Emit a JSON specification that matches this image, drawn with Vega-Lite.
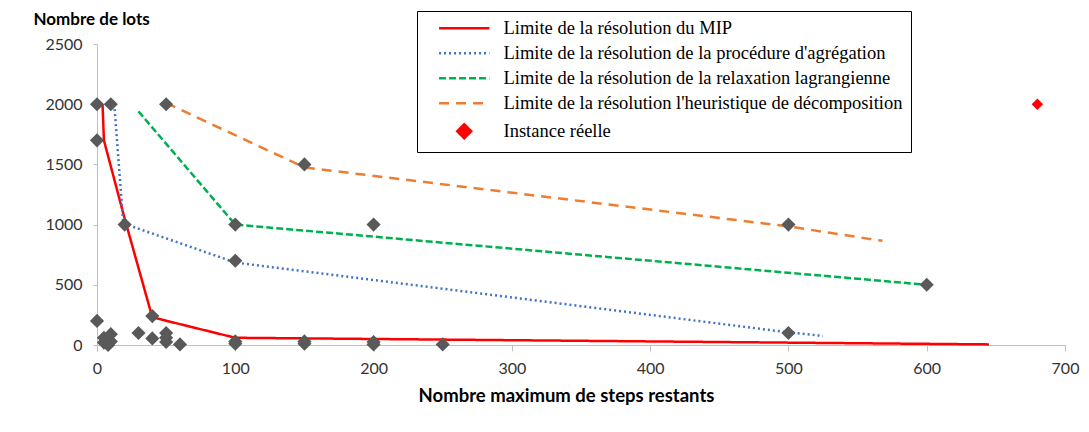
{
  "$schema": "https://vega.github.io/schema/vega-lite/v6.json",
  "width": 968,
  "height": 301,
  "autosize": {"type": "none"},
  "padding": {"left": 97, "top": 44, "right": 24, "bottom": 87},
  "background": "white",
  "config": {"view": {"stroke": null}, "font": "Lato"},
  "datasets": {
    "lines": [
      {"serie": "Limite de la résolution du MIP", "o": 1, "x": 4, "y": 2000},
      {"serie": "Limite de la résolution du MIP", "o": 2, "x": 5, "y": 1700},
      {"serie": "Limite de la résolution du MIP", "o": 3, "x": 20, "y": 1050},
      {"serie": "Limite de la résolution du MIP", "o": 4, "x": 40, "y": 230},
      {"serie": "Limite de la résolution du MIP", "o": 5, "x": 100, "y": 60},
      {"serie": "Limite de la résolution du MIP", "o": 6, "x": 200, "y": 50},
      {"serie": "Limite de la résolution du MIP", "o": 7, "x": 645, "y": 5},
      {"serie": "Limite de la résolution de la procédure d'agrégation", "o": 1, "x": 12.5, "y": 2000},
      {"serie": "Limite de la résolution de la procédure d'agrégation", "o": 2, "x": 19, "y": 1010},
      {"serie": "Limite de la résolution de la procédure d'agrégation", "o": 3, "x": 100, "y": 685},
      {"serie": "Limite de la résolution de la procédure d'agrégation", "o": 4, "x": 500, "y": 105},
      {"serie": "Limite de la résolution de la procédure d'agrégation", "o": 5, "x": 525, "y": 75},
      {"serie": "Limite de la résolution de la relaxation lagrangienne", "o": 1, "x": 30, "y": 1940},
      {"serie": "Limite de la résolution de la relaxation lagrangienne", "o": 2, "x": 100, "y": 1000},
      {"serie": "Limite de la résolution de la relaxation lagrangienne", "o": 3, "x": 600, "y": 500},
      {"serie": "Limite de la résolution l'heuristique de décomposition", "o": 1, "x": 50, "y": 2010},
      {"serie": "Limite de la résolution l'heuristique de décomposition", "o": 2, "x": 150, "y": 1475},
      {"serie": "Limite de la résolution l'heuristique de décomposition", "o": 3, "x": 500, "y": 985},
      {"serie": "Limite de la résolution l'heuristique de décomposition", "o": 4, "x": 568, "y": 865}
    ],
    "points": [
      {"x": 0, "y": 2000}, {"x": 10, "y": 2000}, {"x": 0, "y": 1700}, {"x": 20, "y": 1000},
      {"x": 50, "y": 2000}, {"x": 150, "y": 1500}, {"x": 100, "y": 1000}, {"x": 200, "y": 1000},
      {"x": 100, "y": 700}, {"x": 500, "y": 1000}, {"x": 600, "y": 500}, {"x": 500, "y": 100},
      {"x": 0, "y": 200}, {"x": 5, "y": 60}, {"x": 10, "y": 90}, {"x": 8, "y": 0}, {"x": 10, "y": 30},
      {"x": 5, "y": 20}, {"x": 30, "y": 100}, {"x": 40, "y": 240}, {"x": 40, "y": 55},
      {"x": 50, "y": 100}, {"x": 50, "y": 60}, {"x": 50, "y": 25}, {"x": 60, "y": 5},
      {"x": 100, "y": 30}, {"x": 100, "y": 10}, {"x": 150, "y": 30}, {"x": 150, "y": 10},
      {"x": 200, "y": 25}, {"x": 200, "y": 5}, {"x": 250, "y": 5}
    ],
    "reel": [
      {"serie": "Instance réelle", "x": 680, "y": 2000}
    ]
  },
  "layer": [
    {
      "data": {"name": "lines"},
      "mark": {"type": "line", "strokeWidth": 2.5},
      "encoding": {
        "x": {"field": "x", "type": "quantitative", "scale": {"domain": [0, 700], "nice": false},
          "axis": {"values": [0, 100, 200, 300, 400, 500, 600, 700], "title": "Nombre maximum de steps restants",
            "grid": false, "domainColor": "#bfbfbf", "tickColor": "#bfbfbf", "tickSize": 6, "labelFlush": false,
            "labelFont": "Lato", "labelFontSize": 16, "labelColor": "#333333", "labelPadding": 9,
            "titleFont": "Lato", "titleFontSize": 18.5, "titleFontWeight": "bold", "titleColor": "#000000", "titlePadding": 10,
            "titleX": 469, "titleAnchor": "middle"}},
        "y": {"field": "y", "type": "quantitative", "scale": {"domain": [0, 2500], "nice": false},
          "axis": {"values": [0, 500, 1000, 1500, 2000, 2500], "format": "d", "title": "Nombre de lots",
            "grid": false, "domainColor": "#bfbfbf", "tickColor": "#bfbfbf", "tickSize": 4,
            "labelFont": "Lato", "labelFontSize": 16, "labelColor": "#333333", "labelPadding": 11,
            "titleFont": "Lato", "titleFontSize": 17, "titleFontWeight": "bold", "titleColor": "#000000",
            "titleAngle": 0, "titleAlign": "left", "titleBaseline": "alphabetic", "titleX": -64, "titleY": -20}},
        "color": {"field": "serie", "type": "nominal",
          "scale": {"domain": ["Limite de la résolution du MIP", "Limite de la résolution de la procédure d'agrégation", "Limite de la résolution de la relaxation lagrangienne", "Limite de la résolution l'heuristique de décomposition", "Instance réelle"],
            "range": ["#ff0000", "#4472c4", "#00b050", "#ed7d31", "#ff0000"]},
          "legend": {
            "orient": "none", "legendX": 320, "legendY": -33, "title": null,
            "padding": 8, "strokeColor": "#000000", "fillColor": "white",
            "labelFont": "Liberation Serif", "labelFontSize": 18.5, "labelColor": "#000000", "labelLimit": 700,
            "labelOffset": 30, "rowPadding": 6, "symbolOffset": 30, "symbolSize": 196, "symbolStrokeWidth": 2.5,
            "encode": {"symbols": {"update": {
              "shape": {"signal": "datum.value === 'Instance réelle' ? 'diamond' : 'M-3.6,0H3.6'"},
              "fill": {"signal": "datum.value === 'Instance réelle' ? '#ff0000' : 'transparent'"},
              "stroke": {"signal": "datum.value === 'Instance réelle' ? 'transparent' : scale('color', datum.value)"},
              "strokeDash": {"signal": "datum.value === 'Limite de la résolution de la procédure d\\'agrégation' ? [2,3] : datum.value === 'Limite de la résolution de la relaxation lagrangienne' ? [7,3] : datum.value === 'Limite de la résolution l\\'heuristique de décomposition' ? [10,7] : [1,0]"},
              "opacity": {"value": 1}
            }}}
          }},
        "strokeDash": {"field": "serie", "type": "nominal", "legend": null,
          "scale": {"domain": ["Limite de la résolution du MIP", "Limite de la résolution de la procédure d'agrégation", "Limite de la résolution de la relaxation lagrangienne", "Limite de la résolution l'heuristique de décomposition"],
            "range": [[1, 0], [2, 3], [7, 3], [10, 7]]}},
        "order": {"field": "o", "type": "quantitative"}
      }
    },
    {
      "data": {"name": "points"},
      "mark": {"type": "point", "shape": "diamond", "filled": true, "size": 200, "color": "#595959", "opacity": 1},
      "encoding": {
        "x": {"field": "x", "type": "quantitative"},
        "y": {"field": "y", "type": "quantitative"}
      }
    },
    {
      "data": {"name": "reel"},
      "mark": {"type": "point", "shape": "diamond", "filled": true, "size": 130, "opacity": 1},
      "encoding": {
        "x": {"field": "x", "type": "quantitative"},
        "y": {"field": "y", "type": "quantitative"},
        "color": {"field": "serie", "type": "nominal"}
      }
    }
  ]
}
